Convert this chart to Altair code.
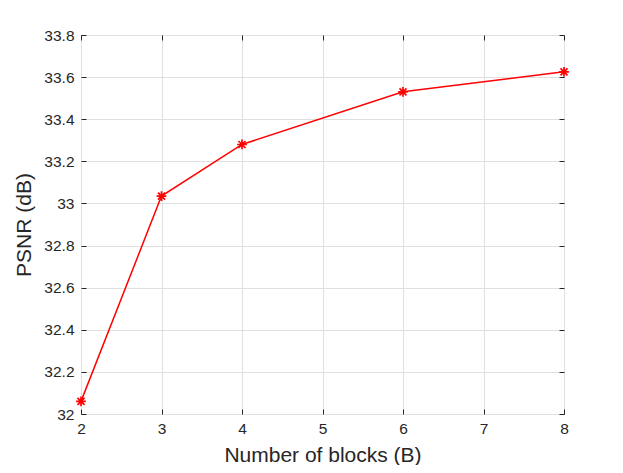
import altair as alt
import pandas as pd

blocks = [2, 3, 4, 6, 8]
psnr = [32.06, 33.035, 33.28, 33.53, 33.625]
x_ticks = [2, 3, 4, 5, 6, 7, 8]
y_ticks = [32.0, 32.2, 32.4, 32.6, 32.8, 33.0, 33.2, 33.4, 33.6, 33.8]

df = pd.DataFrame({"B": blocks, "PSNR": psnr})

FONT = "Liberation Sans"
TXT = "#262626"
ASTER = "M-1,0L1,0M0,-1L0,1M-0.72,-0.72L0.72,0.72M-0.72,0.72L0.72,-0.72"

xscale = alt.Scale(domain=[2, 8], nice=False, zero=False)
yscale = alt.Scale(domain=[32, 33.8], nice=False, zero=False)

common = dict(offset=-5, tickSize=5, domain=False, tickColor=TXT, tickWidth=1,
              gridColor="#e0e0e0", gridWidth=1, labelFont=FONT, labelColor=TXT,
              labelFontSize=15.5, labelFlush=False, titleFont=FONT, titleColor=TXT,
              titleFontSize=21, titleFontWeight="normal")

xax = alt.Axis(values=x_ticks, labelPadding=7, title="Number of blocks (B)",
              titlePadding=8, **common)
yax = alt.Axis(values=y_ticks, labelPadding=7,
              labelExpr="toString(round(datum.value*10)/10)", title="PSNR (dB)",
              titlePadding=9, **common)

line = alt.Chart(df).mark_line(color="#ff0000", strokeWidth=1.5).encode(
    x=alt.X("B:Q", scale=xscale, axis=xax),
    y=alt.Y("PSNR:Q", scale=yscale, axis=yax),
)

box_common = dict(offset=-5, tickSize=5, domain=False, tickColor=TXT, tickWidth=1,
                  labels=False, grid=False, title=None)

pts = alt.Chart(df).mark_point(shape=ASTER, color="#ff0000", size=95, strokeWidth=1.7,
                               filled=False, opacity=1).encode(
    x=alt.X("B:Q", scale=xscale,
            axis=alt.Axis(orient="top", values=x_ticks, **box_common)),
    y=alt.Y("PSNR:Q", scale=yscale,
            axis=alt.Axis(orient="right", values=y_ticks, **box_common)),
)

chart = alt.layer(line, pts).resolve_axis(x="independent", y="independent").properties(
    width=483, height=379,
    autosize=alt.AutoSizeParams(type="none"),
    padding={"left": 73, "top": 27, "right": 51, "bottom": 51},
    background="white",
).configure_view(stroke=TXT, strokeWidth=1)

chart.save("out.html", embed_options={"renderer": "svg", "actions": False})
